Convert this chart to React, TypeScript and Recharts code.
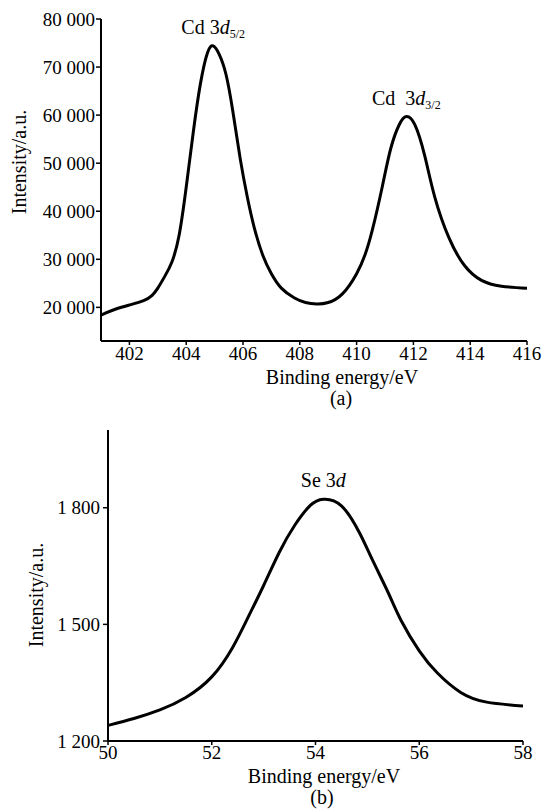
import React from "react";
import {
  LineChart, Line, XAxis, YAxis, ReferenceDot, Label,
} from "recharts";

// (a) Cd 3d region
const CD_ENERGY = [
  401, 401.5, 402, 402.5, 402.8, 403, 403.25, 403.5, 403.75, 404,
  404.25, 404.5, 404.75, 404.95, 405.15, 405.4, 405.65, 405.9, 406.15, 406.4,
  406.7, 407, 407.35, 407.8, 408.2, 408.6, 409, 409.5, 410, 410.3,
  410.55, 410.9, 411.2, 411.5, 411.75, 412.05, 412.4, 412.75, 413.25, 413.8,
  414.4, 415.1, 416,
];
const CD_INTENSITY = [
  18400, 19600, 20500, 21400, 22500, 24000, 26500, 29500, 35000, 45000,
  56500, 66500, 73000, 74400, 72800, 68500, 60500, 51000, 43000, 36500,
  30800, 27000, 24000, 22000, 21000, 20700, 21000, 22800, 27000, 31000,
  36000, 45000, 53000, 58000, 59700, 58000, 51500, 43000, 34500, 28700,
  25600, 24400, 24000,
];
const CD_X_TICKS = [402, 404, 406, 408, 410, 412, 414, 416];
const CD_Y_TICKS = [20000, 30000, 40000, 50000, 60000, 70000, 80000];

// (b) Se 3d region
const SE_ENERGY = [
  50, 50.5, 51, 51.5, 52, 52.4, 52.7, 53, 53.3, 53.6,
  53.9, 54.15, 54.5, 54.85, 55.1, 55.4, 55.65, 56, 56.35, 56.8,
  57.3, 58,
];
const SE_INTENSITY = [
  1240, 1258, 1280, 1312, 1365, 1440, 1518, 1600, 1685, 1755,
  1806, 1822, 1805, 1735, 1665, 1582, 1510, 1432, 1375, 1325,
  1300, 1290,
];
const SE_X_TICKS = [50, 52, 54, 56, 58];
const SE_Y_TICKS = [1200, 1500, 1800];

const cdData = CD_ENERGY.map((e, i) => ({ e, v: CD_INTENSITY[i] }));
const seData = SE_ENERGY.map((e, i) => ({ e, v: SE_INTENSITY[i] }));

const FONT = "'Liberation Serif'";
const tickStyle = { fill: "#000", fontSize: 19, fontFamily: FONT };

// "80000" -> "80 000"
const spaced = (v: number) => String(v).replace(/\B(?=(\d{3})+(?!\d))/g, " ");

function textAt(x: number, y: number, text: string, rotate = false) {
  return () => (
    <text
      x={x} y={y} textAnchor="middle" fontSize={20} fill="#000" fontFamily={FONT}
      transform={rotate ? `rotate(-90 ${x} ${y})` : undefined}
    >
      {text}
    </text>
  );
}

function peakText(main: string, sub?: string) {
  return (p: any) => (
    <text x={p.cx} y={p.cy - 12} textAnchor="middle" fontSize={20} fill="#000" fontFamily={FONT}>
      {main}
      <tspan fontStyle="italic">d</tspan>
      {sub && <tspan fontSize={12} dy={4}>{sub}</tspan>}
    </text>
  );
}

export default function App() {
  return (
    <div style={{ position: "absolute", left: 0, top: 0, width: 543, height: 812, background: "#fff" }}>
      {/* (a) */}
      <div style={{ position: "absolute", left: 0, top: 0 }}>
        <LineChart width={543} height={415} data={cdData} margin={{ top: 19, right: 16, bottom: 34, left: 0 }}>
          <XAxis
            dataKey="e" type="number" domain={[401, 416]} ticks={CD_X_TICKS} allowDataOverflow
            height={40} stroke="#000" axisLine={{ strokeWidth: 2 }} tickLine={{ strokeWidth: 1.5 }}
            tickSize={4} tickMargin={2} tick={tickStyle} interval={0}
          >
            <Label content={textAt(342, 384, "Binding energy/eV")} />
            <Label content={textAt(341, 405, "(a)")} />
          </XAxis>
          <YAxis
            type="number" domain={[13000, 80000]} ticks={CD_Y_TICKS} allowDataOverflow
            width={101} stroke="#000" axisLine={{ strokeWidth: 2 }} tickLine={{ strokeWidth: 1.5 }}
            tickSize={5} tickMargin={1} tick={tickStyle} tickFormatter={spaced} interval={0}
          >
            <Label content={textAt(26, 162, "Intensity/a.u.", true)} />
          </YAxis>
          <Line dataKey="v" type="natural" stroke="#000" strokeWidth={3} dot={false} isAnimationActive={false} />
          <ReferenceDot x={404.95} y={74400} r={0} shape={peakText("Cd 3", "5/2")} />
          <ReferenceDot x={411.75} y={59700} r={0} shape={peakText("Cd\u00a0\u00a03", "3/2")} />
        </LineChart>
      </div>

      {/* (b) */}
      <div style={{ position: "absolute", left: 0, top: 415 }}>
        <LineChart width={543} height={397} data={seData} margin={{ top: 15, right: 20, bottom: 31, left: 0 }}>
          <XAxis
            dataKey="e" type="number" domain={[50, 58]} ticks={SE_X_TICKS} allowDataOverflow
            height={40} stroke="#000" axisLine={{ strokeWidth: 2 }} tickLine={{ strokeWidth: 1.5 }}
            tickSize={4} tickMargin={1} tick={tickStyle} interval={0}
          >
            <Label content={textAt(324, 368, "Binding energy/eV")} />
            <Label content={textAt(322, 389, "(b)")} />
          </XAxis>
          <YAxis
            type="number" domain={[1200, 2000]} ticks={SE_Y_TICKS} allowDataOverflow
            width={108} stroke="#000" axisLine={{ strokeWidth: 2 }} tickLine={{ strokeWidth: 1.5 }}
            tickSize={5} tickMargin={3} tick={tickStyle} tickFormatter={spaced} interval={0}
          >
            <Label content={textAt(43, 180, "Intensity/a.u.", true)} />
          </YAxis>
          <Line dataKey="v" type="natural" stroke="#000" strokeWidth={3} dot={false} isAnimationActive={false} />
          <ReferenceDot x={54.15} y={1822} r={0} shape={peakText("Se 3")} />
        </LineChart>
      </div>
    </div>
  );
}
